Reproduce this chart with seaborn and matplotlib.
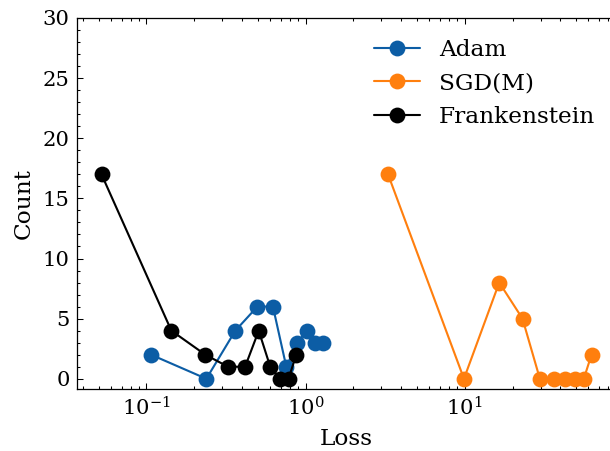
import numpy as np
import pandas as pd
import matplotlib
matplotlib.use("Agg")
import matplotlib.pyplot as plt
import seaborn as sns

# --- data (histogram bin centres vs counts) ---
adam_loss = [0.107, 0.238, 0.362, 0.498, 0.624, 0.757, 0.887, 1.02, 1.15, 1.28]
adam_count = [2, 0, 4, 6, 6, 1, 3, 4, 3, 3]

sgd_loss = [3.30, 9.9, 16.5, 23.1, 29.7, 36.3, 42.9, 49.5, 56.1, 62.7]
sgd_count = [17, 0, 8, 5, 0, 0, 0, 0, 0, 2]

frank_loss = [0.0522, 0.1435, 0.2345, 0.326, 0.417, 0.508, 0.600, 0.691, 0.782, 0.874]
frank_count = [17, 4, 2, 1, 1, 4, 1, 0, 0, 2]

series = [
    ("Adam", adam_loss, adam_count, "#0C5DA5"),
    ("SGD(M)", sgd_loss, sgd_count, "#FF7F0E"),
    ("Frankenstein", frank_loss, frank_count, "black"),
]

# --- style (science-like: serif, inward ticks on all sides) ---
sns.set_theme(style="ticks")
plt.rcParams.update({
    "font.family": ["DejaVu Serif"],
    "mathtext.fontset": "dejavuserif",
    "font.size": 10,
    "axes.labelsize": 11,
    "xtick.labelsize": 10,
    "ytick.labelsize": 10,
    "legend.fontsize": 11,
    "axes.linewidth": 0.6,
    "axes.edgecolor": "black",
    "xtick.direction": "in",
    "ytick.direction": "in",
    "xtick.top": True,
    "ytick.right": True,
    "xtick.minor.visible": True,
    "ytick.minor.visible": True,
    "xtick.major.size": 3,
    "ytick.major.size": 3,
    "xtick.minor.size": 1.5,
    "ytick.minor.size": 1.5,
    "xtick.major.width": 0.5,
    "ytick.major.width": 0.5,
    "xtick.minor.width": 0.5,
    "ytick.minor.width": 0.5,
    "xtick.color": "black",
    "ytick.color": "black",
    "text.color": "black",
    "axes.labelcolor": "black",
})

DPI = 152
fig = plt.figure(figsize=(610 / DPI, 451 / DPI), dpi=DPI)
# axes spans past the right edge like the reference crop
ax = fig.add_axes([77 / 610, (451 - 389) / 451, (616 - 77) / 610, (389 - 18) / 451])

for name, loss, count, color in series:
    df = pd.DataFrame({"Loss": loss, "Count": count})
    sns.lineplot(data=df, x="Loss", y="Count", ax=ax, color=color, label=name,
                 marker="o", markersize=7.5, markeredgewidth=0, linewidth=1.0,
                 sort=False, errorbar=None)

ax.set_xscale("log")
ax.set_ylim(top=30)
ax.set_yticks([0, 5, 10, 15, 20, 25, 30])
ax.yaxis.set_minor_locator(matplotlib.ticker.MultipleLocator(1))
ax.set_xlabel("Loss")
ax.set_ylabel("Count")
ax.legend(loc="upper right", frameon=False)

fig.savefig("out.png", dpi=DPI)
